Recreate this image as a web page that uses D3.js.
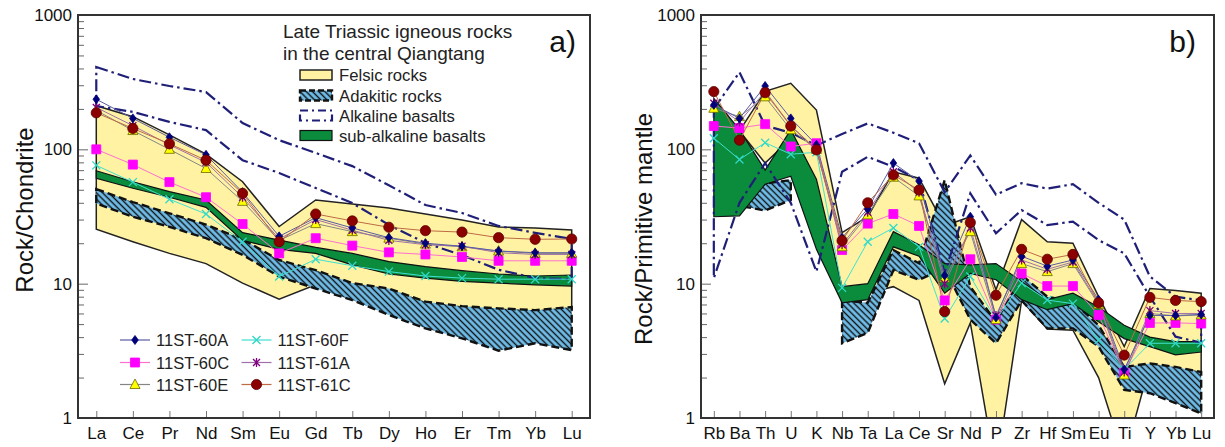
<!DOCTYPE html>
<html>
<head>
<meta charset="utf-8">
<script src="https://cdn.jsdelivr.net/npm/d3@7"></script>
<style>
  body { margin: 0; background: #fff; }
  svg { display: block; font-family: "Liberation Sans", Arial, sans-serif; }
</style>
</head>
<body>
<svg width="1225" height="447"></svg>
<script>
// ---- панель a: REE, нормированные на хондрит ----
const reeLabels = ["La","Ce","Pr","Nd","Sm","Eu","Gd","Tb","Dy","Ho","Er","Tm","Yb","Lu"];

const ree60A = [236,170,123,91,48,22.5,31,26,22,20,19,17.5,17,17];
const ree60C = [100,77,57,44,27.8,16.8,21.8,19.2,17.1,16.5,15.8,14.8,14.8,14.8];
const ree60E = [195,138,100,72,41,21,28,24.4,21.8,19.7,18.8,17.5,16.8,16.8];
const ree60F = [76,57,42.5,33,20.5,11.3,15.2,13.6,12.3,11.4,11.0,10.8,10.8,10.8];
const ree61A = [205,150,108,80,44,21.5,30,25,21,19.5,19,17,16.5,16.5];
const ree61C = [187,143,110,83,47,20.5,33,29.3,26.3,24.8,24.2,22,21.4,21.5];

// поля (верхняя и нижняя границы)
const felsicA_hi = [211,175,128,92,57.4,26.6,42,39.2,36.6,33,29.8,26.4,26,25.1];
const felsicA_lo = [25.4,20.5,16.8,14.1,10.1,7.65,9.8,9.5,8.5,7,6.5,6.2,6,6.3];
const adakA_hi   = [50.6,40.5,33.4,27.5,21.4,15,12.6,10.1,9.2,7.35,6.8,6.55,6.35,6.7];
const adakA_lo   = [39.5,31.5,26.5,21.8,16.4,11.3,9.2,7.55,5.85,4.65,3.92,3.17,3.6,3.2];
const subA_hi    = [69.3,57.4,48.5,42,24,21.1,18.6,16.8,14.6,13.4,12.5,11.8,11.4,11.6];
const subA_lo    = [60.8,51.3,44,37,21,18,16.8,13.8,11.8,11,10.4,10.1,9.8,9.6];
const alkA_hi    = [410,334,296,267,157,117,94,75,54,38.5,33.6,26.9,23.9,21.5];
const alkA_lo    = [210,190,160,139,83,66.7,51.5,39.8,27.4,20.1,16.3,12.7,11,10.8];

// ---- панель b: спайдер-диаграмма, примитивная мантия ----
const spLabels = ["Rb","Ba","Th","U","K","Nb","Ta","La","Ce","Sr","Nd","P","Zr","Hf","Sm","Eu","Ti","Y","Yb","Lu"];

const sp60A = [214,170,296,170,108,22,36,79,58,11.5,31.5,5.6,16,13.5,15,7.6,2.3,5.8,5.8,5.9];
const sp60C = [149,144,154,105,111,17.8,28,33,26.9,7.5,15.2,5.4,11.9,9.6,9.6,5.85,2.17,5.1,5.1,5.05];
const sp60E = [202,175,246,140,100,18.8,32.5,62,45,11,24.4,5.4,14.1,12.3,14.1,7,2.09,6.0,5.75,5.85];
const sp60F = [121,84,112,92,95,9.3,20.5,26,18.8,5.5,11.3,5.4,10.1,7.55,7.1,3.8,2.3,3.6,3.6,3.6];
const sp61A = [220,160,270,150,100,19.5,34,68,48,10,26,5.8,15,12.8,14.5,7.2,2.2,6.3,6,6];
const sp61C = [269,117,264,149,99,20.9,40,64.4,49.8,6.2,28.5,8.2,18,15.2,16.5,7.2,2.94,7.9,7.5,7.35];

const felsicB_hi = [null,137,270,310,196,24,31.5,68,61,27,31.5,9,30,20.5,20,8,3.4,9.2,8.9,8.5];
const felsicB_lo = [null,137,79,120,50,8.5,8.5,9.5,7.5,1.8,5.1,0.4,7.5,4.6,4.5,2.0,0.5,2.5,2.3,2.2];
const adakB_hi   = [null,40,55.7,59,null,7.5,7.2,17.8,14.2,59,9.5,5.2,11.6,8.0,7.35,4.9,2.4,2.55,2.4,2.2];
const adakB_lo   = [null,38,35,42,null,3.6,4.3,12.6,10.7,13,5.4,3.6,7.5,4.65,4.65,3.4,1.62,1.53,1.29,1.08];
const subB_hi    = [240,140,70,140,60,9.5,10,24.4,19.5,14.1,13.8,14.1,10.4,7.6,8.5,6.7,4.9,4.0,3.7,3.7];
const subB_lo    = [31.5,32,55,63,18,7.2,7.6,18.8,16,8.5,11.9,10.7,7.6,6.4,7.1,5.2,3.9,3.4,2.95,3.1];
const alkB_hi    = [200,375,150,133,107,130,156,133,111,48,90,46,56,51,55,40,30,11.3,8,7.5];
const alkB_lo    = [11,40,79,40,12.3,68,88,74,59,12,47,23.7,35.3,27.3,29,21.1,16.8,8.0,4.03,3.63];

const yMajor = [1, 10, 100, 1000];
const sampleNames = ["11ST-60A","11ST-60C","11ST-60E","11ST-60F","11ST-61A","11ST-61C"];
const fieldNames = ["Felsic rocks","Adakitic rocks","Alkaline basalts","sub-alkaline basalts"];

// стили образцов
const sampleStyle = {
    "11ST-60A": {line: "#5b5ba3", shape: "diamond",  fill: "#00007a", stroke: "#00007a"},
    "11ST-60C": {line: "#ff6fcf", shape: "square",   fill: "#ff00ff", stroke: "#ff00ff"},
    "11ST-60E": {line: "#858585", shape: "triangle", fill: "#ffff00", stroke: "#6b6b00"},
    "11ST-60F": {line: "#40e0d0", shape: "x",        fill: "none",    stroke: "#30d8c8"},
    "11ST-61A": {line: "#a070a8", shape: "star",     fill: "none",    stroke: "#800080"},
    "11ST-61C": {line: "#bd6a45", shape: "circle",   fill: "#8b0000", stroke: "#5a0000"}
};
const drawOrder = ["11ST-60F","11ST-60C","11ST-60E","11ST-61A","11ST-60A","11ST-61C"];

const fieldStyle = {
    felsic: {fill: "#fff3a3", stroke: "#222", "stroke-width": 1.5},
    adak:   {fill: "url(#hatch)", stroke: "#111", "stroke-width": 2.4, "stroke-dasharray": "8,4"},
    sub:    {fill: "#0a8c3c", stroke: "#111", "stroke-width": 1.2},
    alk:    {fill: "none", stroke: "#1f1f78", "stroke-width": 2.2, "stroke-dasharray": "12,4,2.5,4"}
};

const svg = d3.select("svg");
svg.append("rect").attr("width", 1225).attr("height", 447).attr("fill", "#fff");
const defs = svg.append("defs");

// штриховка для адакитов
const pat = defs.append("pattern")
    .attr("id", "hatch")
    .attr("patternUnits", "userSpaceOnUse")
    .attr("width", 4.4).attr("height", 4.4)
    .attr("patternTransform", "rotate(45)");
pat.append("rect").attr("width", 4.4).attr("height", 4.4).attr("fill", "#6fbde8");
pat.append("line").attr("x1", 0).attr("y1", 2.2).attr("x2", 4.4).attr("y2", 2.2)
    .attr("stroke", "#111").attr("stroke-width", 1.4);

function applyStyle(sel, style) {
    Object.entries(style).forEach(([k, v]) => sel.attr(k, v));
    return sel;
}

function markerPath(shape) {
    switch (shape) {
        case "diamond":  return "M0,-4.5L3.3,0L0,4.5L-3.3,0Z";
        case "square":   return "M-4.5,-4.5H4.5V4.5H-4.5Z";
        case "triangle": return "M0,-5.5L5,4L-5,4Z";
        case "circle":   return d3.symbol(d3.symbolCircle, 82)();
        case "x":        return "M-4,-4L4,4M-4,4L4,-4";
        case "star":     return "M-3.5,-3.5L3.5,3.5M-3.5,3.5L3.5,-3.5M0,-4.5V4.5";
    }
}

function drawMarker(layer, name, x, y) {
    const st = sampleStyle[name];
    layer.append("path")
        .attr("d", markerPath(st.shape))
        .attr("transform", `translate(${x},${y})`)
        .attr("fill", st.fill)
        .attr("stroke", st.stroke)
        .attr("stroke-width", (st.shape === "x" || st.shape === "star") ? 1.3 : 0.8);
}

// делим поле на куски по null
function bandSegments(labels, hi, lo) {
    const segs = [];
    let cur = [];
    labels.forEach((l, i) => {
        if (hi[i] == null) {
            if (cur.length) segs.push(cur);
            cur = [];
        } else cur.push({label: l, hi: hi[i], lo: lo[i]});
    });
    if (cur.length) segs.push(cur);
    return segs;
}

function drawField(layer, labels, hi, lo, scX, scY, style) {
    const line = d3.line().x(d => scX(d[0])).y(d => scY(d[1]));
    bandSegments(labels, hi, lo).forEach(seg => {
        const pts = seg.map(d => [d.label, d.hi])
            .concat(seg.slice().reverse().map(d => [d.label, d.lo]));
        applyStyle(layer.append("path").attr("d", line(pts) + "Z"), style);
    });
}

function drawPanel(p) {
    const scX = d3.scalePoint().domain(p.labels).range([p.left, p.right]).padding(0.5);
    const scY = d3.scaleLog().domain([1, 1000]).range([p.bottom, p.top]);

    defs.append("clipPath").attr("id", "clip-" + p.id)
        .append("rect")
        .attr("x", p.left).attr("y", p.top)
        .attr("width", p.right - p.left).attr("height", p.bottom - p.top);

    const plot = svg.append("g").attr("clip-path", `url(#clip-${p.id})`);

    // поля: жёлтое, штриховка, зелёное, штрих-пунктир
    drawField(plot, p.labels, p.felsic[0], p.felsic[1], scX, scY, fieldStyle.felsic);
    drawField(plot, p.labels, p.adak[0], p.adak[1], scX, scY, fieldStyle.adak);
    drawField(plot, p.labels, p.sub[0], p.sub[1], scX, scY, fieldStyle.sub);
    drawField(plot, p.labels, p.alk[0], p.alk[1], scX, scY, fieldStyle.alk);

    // образцы
    const line = d3.line().x((d, i) => scX(p.labels[i])).y(d => scY(d));
    drawOrder.forEach(name => {
        plot.append("path").attr("d", line(p.samples[name]))
            .attr("fill", "none").attr("stroke", sampleStyle[name].line).attr("stroke-width", 1);
    });
    drawOrder.forEach(name => {
        p.samples[name].forEach((v, i) => drawMarker(plot, name, scX(p.labels[i]), scY(v)));
    });

    // оси
    const axY = d3.axisLeft(scY)
        .tickValues(scY.ticks())
        .tickFormat(d => yMajor.includes(d) ? d : "")
        .tickSizeInner(-6).tickSizeOuter(0).tickPadding(6);
    const gy = svg.append("g").attr("transform", `translate(${p.left},0)`).call(axY);
    gy.select(".domain").remove();
    gy.selectAll(".tick line")
        .attr("x2", d => yMajor.includes(d) ? 10 : 6)
        .attr("stroke", "#666");
    gy.selectAll("text").attr("font-size", 17).attr("fill", "#111")
        .attr("font-family", "Liberation Sans, Arial, sans-serif");

    const axX = d3.axisBottom(scX).tickSizeInner(-7).tickSizeOuter(0).tickPadding(9);
    const gx = svg.append("g").attr("transform", `translate(0,${p.bottom})`).call(axX);
    gx.select(".domain").remove();
    gx.selectAll(".tick line").attr("stroke", "#777");
    gx.selectAll("text").attr("font-size", 17).attr("fill", "#111")
        .attr("font-family", "Liberation Sans, Arial, sans-serif");

    // рамка
    svg.append("rect")
        .attr("x", p.left).attr("y", p.top)
        .attr("width", p.right - p.left).attr("height", p.bottom - p.top)
        .attr("fill", "none").attr("stroke", "#333").attr("stroke-width", 2);

    // подписи
    svg.append("text")
        .attr("transform", `translate(${p.titleX},${p.titleY}) rotate(-90)`)
        .attr("text-anchor", "middle")
        .attr("font-size", 24).attr("fill", "#111")
        .text(p.yTitle);
    svg.append("text")
        .attr("x", p.tagX).attr("y", 52)
        .attr("text-anchor", "end")
        .attr("font-size", 30).attr("fill", "#111")
        .text(p.tag);
}

drawPanel({
    id: "a", left: 78, right: 590, top: 15, bottom: 418,
    labels: reeLabels,
    samples: {"11ST-60A": ree60A, "11ST-60C": ree60C, "11ST-60E": ree60E,
              "11ST-60F": ree60F, "11ST-61A": ree61A, "11ST-61C": ree61C},
    felsic: [felsicA_hi, felsicA_lo], adak: [adakA_hi, adakA_lo],
    sub: [subA_hi, subA_lo], alk: [alkA_hi, alkA_lo],
    yTitle: "Rock/Chondrite", titleX: 33, titleY: 210, tag: "a)", tagX: 576
});

drawPanel({
    id: "b", left: 701, right: 1214, top: 15, bottom: 418,
    labels: spLabels,
    samples: {"11ST-60A": sp60A, "11ST-60C": sp60C, "11ST-60E": sp60E,
              "11ST-60F": sp60F, "11ST-61A": sp61A, "11ST-61C": sp61C},
    felsic: [felsicB_hi, felsicB_lo], adak: [adakB_hi, adakB_lo],
    sub: [subB_hi, subB_lo], alk: [alkB_hi, alkB_lo],
    yTitle: "Rock/Primitive mantle", titleX: 652, titleY: 229, tag: "b)", tagX: 1196
});

// ---- легенда полей (панель a) ----
const lg = svg.append("g");
lg.append("text").attr("x", 283).attr("y", 38).attr("font-size", 19).attr("fill", "#222")
    .text("Late Triassic igneous rocks");
lg.append("text").attr("x", 283).attr("y", 59.5).attr("font-size", 19).attr("fill", "#222")
    .text("in the central Qiangtang");

const fieldKeys = ["felsic", "adak", "alk", "sub"];
const fieldRowY = [75, 95.5, 115.5, 135.5];
fieldKeys.forEach((k, i) => {
    const r = lg.append("rect").attr("x", 300).attr("y", fieldRowY[i] - 5)
        .attr("width", 32).attr("height", 10);
    applyStyle(r, fieldStyle[k]);
    if (k === "adak") r.attr("stroke-dasharray", "6,3");
    if (k === "alk") r.attr("stroke-dasharray", "8,4,2,4");
    lg.append("text").attr("x", 339).attr("y", fieldRowY[i] + 6)
        .attr("font-size", 16.7).attr("fill", "#222").text(fieldNames[i]);
});

// ---- легенда образцов ----
const colX = [120, 241.5];
const rowY = [340, 362.5, 384.5];
sampleNames.forEach((name, i) => {
    const cx = colX[Math.floor(i / 3)];
    const cy = rowY[i % 3];
    lg.append("line").attr("x1", cx).attr("x2", cx + 30).attr("y1", cy).attr("y2", cy)
        .attr("stroke", sampleStyle[name].line).attr("stroke-width", 1.2);
    drawMarker(lg, name, cx + 15, cy);
    lg.append("text").attr("x", cx + 36).attr("y", cy + 6)
        .attr("font-size", 16.5).attr("fill", "#222").text(name);
});
</script>
</body>
</html>
